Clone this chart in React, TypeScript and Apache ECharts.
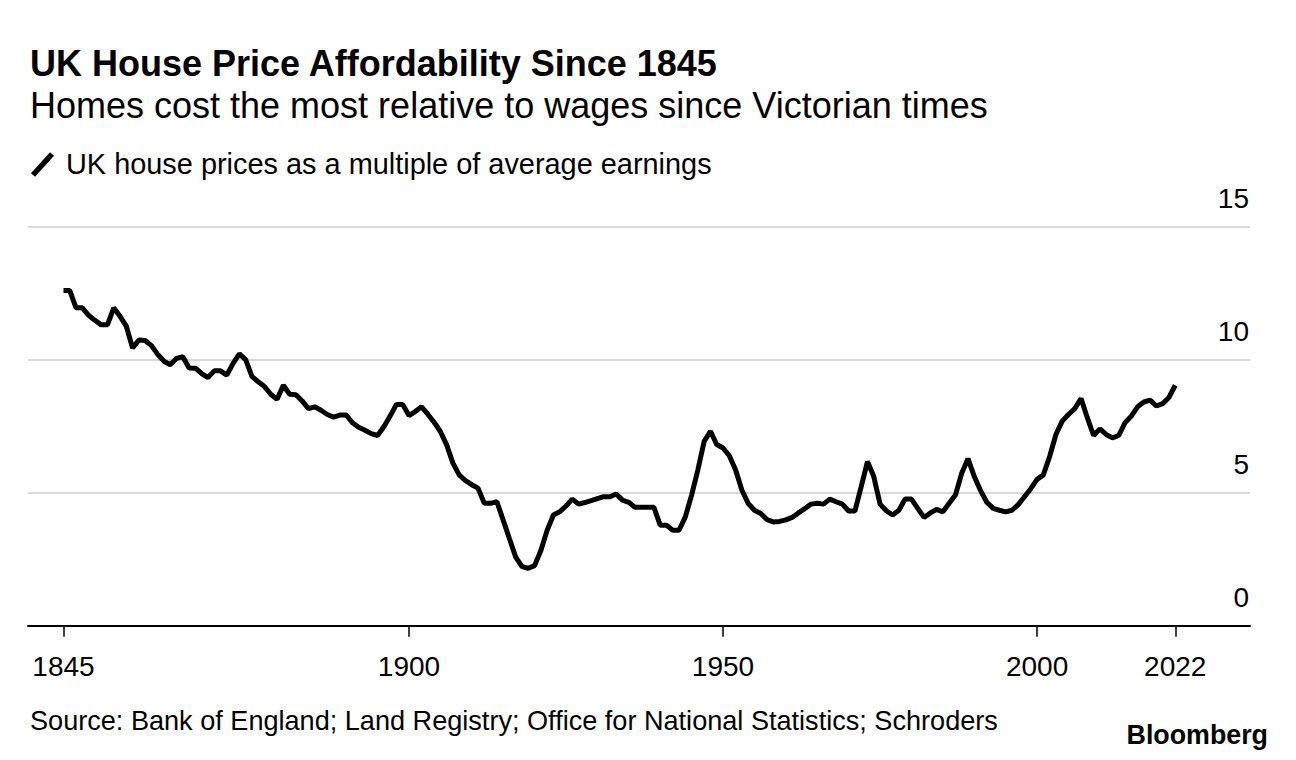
import React, { useEffect, useRef } from "react";
import * as echarts from "echarts";

const startYear = 1845;
// UK house prices as a multiple of average earnings, 1845..2022
const multiples = [
  12.6, 12.6, 11.95, 11.95, 11.67, // 1845-1849
  11.48, 11.31, 11.31, 11.95, 11.63, 11.26, 10.44, 10.74, 10.72, 10.53, // 1850-1859
  10.2, 9.94, 9.81, 10.05, 10.11, 9.69, 9.68, 9.48, 9.33, 9.58, // 1860-1869
  9.58, 9.42, 9.86, 10.22, 10.0, 9.37, 9.17, 8.99, 8.7, 8.51, // 1870-1879
  9.04, 8.7, 8.68, 8.45, 8.16, 8.23, 8.1, 7.94, 7.84, 7.92, // 1880-1889
  7.92, 7.63, 7.46, 7.35, 7.22, 7.15, 7.48, 7.88, 8.32, 8.32, // 1890-1899
  7.9, 8.05, 8.23, 7.95, 7.65, 7.3, 6.8, 6.11, 5.67, 5.45, // 1900-1909
  5.3, 5.17, 4.6, 4.6, 4.66, 3.97, 3.27, 2.58, 2.22, 2.16, // 1910-1919
  2.26, 2.83, 3.59, 4.16, 4.28, 4.5, 4.76, 4.57, 4.63, 4.7, // 1920-1929
  4.78, 4.85, 4.85, 4.95, 4.72, 4.64, 4.45, 4.45, 4.45, 4.45, // 1930-1939
  3.78, 3.78, 3.59, 3.59, 4.09, 4.91, 5.86, 6.93, 7.31, 6.81, // 1940-1949
  6.68, 6.39, 5.86, 5.1, 4.6, 4.34, 4.22, 3.99, 3.9, 3.92, // 1950-1959
  3.98, 4.07, 4.24, 4.4, 4.57, 4.6, 4.57, 4.76, 4.66, 4.57, // 1960-1969
  4.31, 4.31, 5.23, 6.17, 5.61, 4.57, 4.32, 4.16, 4.34, 4.76, // 1970-1979
  4.76, 4.41, 4.07, 4.24, 4.37, 4.28, 4.6, 4.91, 5.73, 6.28, // 1980-1989
  5.61, 5.08, 4.64, 4.41, 4.34, 4.28, 4.34, 4.55, 4.85, 5.15, // 1990-1999
  5.5, 5.67, 6.36, 7.19, 7.69, 7.94, 8.16, 8.54, 7.82, 7.15, // 2000-2009
  7.4, 7.19, 7.06, 7.15, 7.63, 7.88, 8.23, 8.41, 8.48, 8.26, // 2010-2019
  8.35, 8.58, 9.04, // 2020-2022
];
const years = multiples.map((_, i) => startYear + i);

const xTickYears = [1845, 1900, 1950, 2000, 2022];
const yMin = 0;
const yMax = 15;
const yStep = 5;

const titleText = "UK House Price Affordability Since 1845";
const subtitleText = "Homes cost the most relative to wages since Victorian times";
const legendText = "UK house prices as a multiple of average earnings";
const sourceText =
  "Source: Bank of England; Land Registry; Office for National Statistics; Schroders";
const brandText = "Bloomberg";

const FONT = "'Liberation Sans', Arial, Helvetica, sans-serif";

export default function App() {
  const ref = useRef<HTMLDivElement>(null);

  useEffect(() => {
    const chart = echarts.init(ref.current!, null, { renderer: "svg" });
    const seriesData = years.map((y, i) => [y, multiples[i]]);

    chart.setOption({
      animation: false,
      backgroundColor: "#ffffff",
      textStyle: { fontFamily: FONT },
      grid: { left: 28, right: 46, top: 226.7, bottom: 134.3, containLabel: false },
      xAxis: {
        type: "value",
        min: 1839.35,
        max: 2033.9,
        splitLine: { show: false },
        axisLine: { show: true, lineStyle: { color: "#000", width: 2 } },
        axisTick: {
          show: true,
          customValues: xTickYears,
          length: 11,
          lineStyle: { color: "#000", width: 1.5 },
        },
        axisLabel: {
          customValues: xTickYears,
          formatter: (v: number) => String(v),
          color: "#000",
          fontSize: 28,
          fontFamily: FONT,
          margin: 27,
        },
      },
      yAxis: {
        type: "value",
        position: "right",
        min: yMin,
        max: yMax,
        interval: yStep,
        axisLine: { show: false },
        axisTick: { show: false },
        splitLine: { show: true, lineStyle: { color: "#d9d9d9", width: 2 } },
        axisLabel: {
          inside: true,
          margin: 1,
          color: "#000",
          fontSize: 28,
          fontFamily: FONT,
          verticalAlign: "bottom",
          lineHeight: 56,
        },
      },
      series: [
        {
          type: "line",
          name: legendText,
          data: seriesData,
          showSymbol: false,
          symbol: "none",
          lineStyle: { color: "#000", width: 5 },
          z: 5,
        },
      ],
      graphic: [
        {
          type: "text",
          x: 30,
          y: 63,
          style: {
            text: titleText,
            fill: "#000",
            font: `bold 36px ${FONT}`,
            align: "left",
            verticalAlign: "middle",
          },
        },
        {
          type: "text",
          x: 30,
          y: 105,
          style: {
            text: subtitleText,
            fill: "#000",
            font: `36px ${FONT}`,
            align: "left",
            verticalAlign: "middle",
          },
        },
        {
          type: "line",
          shape: { x1: 33, y1: 175, x2: 52, y2: 154 },
          style: { stroke: "#000", lineWidth: 5.5 },
        },
        {
          type: "text",
          x: 66,
          y: 164,
          style: {
            text: legendText,
            fill: "#000",
            font: `28.9px ${FONT}`,
            align: "left",
            verticalAlign: "middle",
          },
        },
        {
          type: "text",
          x: 30,
          y: 720,
          style: {
            text: sourceText,
            fill: "#000",
            font: `27.1px ${FONT}`,
            align: "left",
            verticalAlign: "middle",
          },
        },
        {
          type: "text",
          x: 1268,
          y: 735,
          style: {
            text: brandText,
            fill: "#000",
            font: `bold 26.8px ${FONT}`,
            align: "right",
            verticalAlign: "middle",
          },
        },
      ],
    });

    return () => chart.dispose();
  }, []);

  return (
    <div
      ref={ref}
      style={{ position: "fixed", left: 0, top: 0, width: 1296, height: 760 }}
    />
  );
}
